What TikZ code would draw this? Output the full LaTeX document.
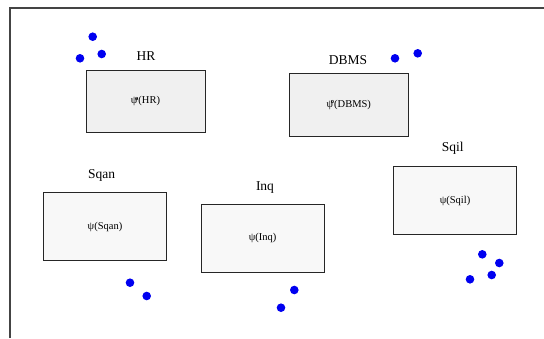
\documentclass[tikz,border=0pt]{standalone}
\usepackage{fontspec}
\setmainfont{Liberation Serif}
\definecolor{boxA}{HTML}{F0F0F0}
\definecolor{boxB}{HTML}{F8F8F8}
\definecolor{dotblue}{HTML}{0000F0}
\definecolor{framegray}{HTML}{444444}
\newcommand{\psiring}{ψ\kern-0.22em\raisebox{0.72ex}{\fontsize{6.5}{6.5}\selectfont\textbf{o}}}
\tikzset{
  modbox/.style={draw=black!85, line width=0.9pt, inner sep=0pt, font=\fontsize{10.5}{12}\selectfont},
  boxlabel/.style={inner sep=0pt, font=\fontsize{13.5}{15}\selectfont},
  bdot/.style={circle, fill=dotblue, inner sep=0pt, minimum size=8.6pt},
}
\begin{document}
\begin{tikzpicture}[x=1pt,y=-1pt]
\useasboundingbox (0,0) rectangle (544,338);
\draw[framegray, line width=1.4pt] (10,338) -- (10,8) -- (544,8);
% boxes
\node[modbox, fill=boxA, minimum width=119pt, minimum height=62pt] (hr) at (145.5,101) {\psiring(HR)};
\node[modbox, fill=boxA, minimum width=119pt, minimum height=63pt] (dbms) at (348.8,104.6) {\psiring(DBMS)};
\node[modbox, fill=boxB, minimum width=123pt, minimum height=68pt] (sqan) at (105,226.5) {ψ(Sqan)};
\node[modbox, fill=boxB, minimum width=123pt, minimum height=68pt] (inq) at (262.7,238.2) {ψ(Inq)};
\node[modbox, fill=boxB, minimum width=123pt, minimum height=68pt] (sqil) at (455,200.8) {ψ(Sqil)};
% labels
\node[boxlabel] (hrl) at (146,56) {HR};
\node[boxlabel] (dbmsl) at (348,60) {DBMS};
\node[boxlabel] (sqanl) at (101.7,175.5) {Sqan};
\node[boxlabel] (inql) at (265,188) {Inq};
\node[boxlabel] (sqill) at (452.7,148.5) {Sqil};
% dots
\node[bdot] (d1) at (92.7,36.7) {};
\node[bdot] (d2) at (80,58.3) {};
\node[bdot] (d3) at (101.7,54) {};
\node[bdot] (d4) at (395,58.3) {};
\node[bdot] (d5) at (417.7,53.3) {};
\node[bdot] (d6) at (130,282.7) {};
\node[bdot] (d7) at (146.7,296) {};
\node[bdot] (d8) at (294.3,290) {};
\node[bdot] (d9) at (281,307.7) {};
\node[bdot] (d10) at (482.3,254.3) {};
\node[bdot] (d11) at (499.3,263) {};
\node[bdot] (d12) at (491.7,275) {};
\node[bdot] (d13) at (470,279.3) {};
\end{tikzpicture}
\end{document}
